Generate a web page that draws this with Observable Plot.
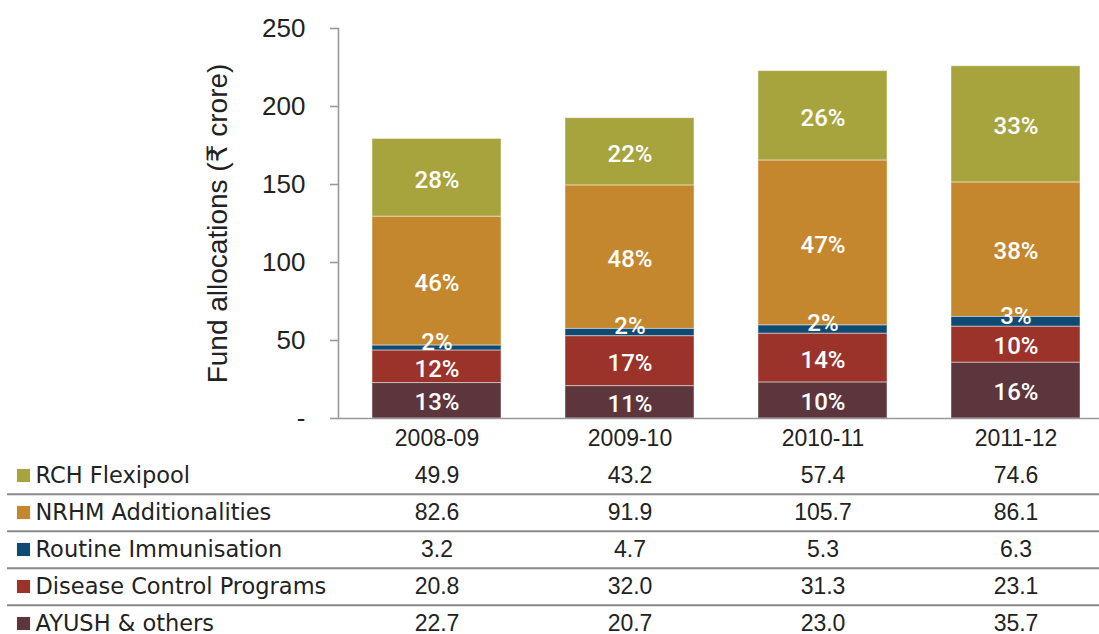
<!DOCTYPE html>
<html>
<head>
<meta charset="utf-8">
<script src="https://cdn.jsdelivr.net/npm/d3@7"></script>
<script src="https://cdn.jsdelivr.net/npm/@observablehq/plot@0.6"></script>
<style>
  html, body { margin: 0; padding: 0; background: #fff; }
  #chart svg { display: block; }
</style>
</head>
<body>
<div id="chart"></div>
<script>
// ---- Data ----
const years = ["2008-09", "2009-10", "2010-11", "2011-12"];
const seriesNames = ["RCH Flexipool", "NRHM Additionalities", "Routine Immunisation", "Disease Control Programs", "AYUSH & others"];
const rchFlexipool = [49.9, 43.2, 57.4, 74.6];
const nrhmAdditionalities = [82.6, 91.9, 105.7, 86.1];
const routineImmunisation = [3.2, 4.7, 5.3, 6.3];
const diseaseControlPrograms = [20.8, 32.0, 31.3, 23.1];
const ayushOthers = [22.7, 20.7, 23.0, 35.7];
const seriesColors = ["#A7A43E", "#C4872E", "#0D4A74", "#9B332B", "#5C363C"];
const yTicks = [0, 50, 100, 150, 200, 250];
const yTitle = "Fund allocations (₹ crore)";

const seriesValues = [rchFlexipool, nrhmAdditionalities, routineImmunisation, diseaseControlPrograms, ayushOthers];
const records = seriesNames.flatMap((s, i) => years.map((y, j) => ({series: s, year: y, value: seriesValues[i][j]})));
const totals = new Map(years.map((y, j) => [y, d3.sum(seriesValues, v => v[j])]));
const stackOrder = seriesNames.slice().reverse();
const pct = d => Math.round(d.value / totals.get(d.year) * 100) + "%";

const font = "'Liberation Sans', Arial, 'DejaVu Sans', 'Noto Sans', sans-serif";
const xScale = {type: "band", domain: years, range: [338.6, 1113.9], padding: 0.332, paddingOuter: 0.166};
const colorScale = {domain: seriesNames, range: seriesColors};
const axisGray = "#999999";
const ruleGray = "#8a8a8a";
const textColor = "#222";
const labelFont = "Roboto, 'Open Sans', sans-serif";

const chart = Plot.plot({
  width: 1099,
  height: 450,
  marginTop: 28,
  marginBottom: 32,
  marginLeft: 338,
  marginRight: 0,
  style: {fontFamily: font, background: "#fff", color: textColor},
  x: {...xScale, label: null},
  y: {domain: [0, 250], label: null},
  color: colorScale,
  marks: [
    Plot.barY(records, {x: "year", y: "value", z: "series", fill: "series", order: stackOrder,
      stroke: "#fff", strokeOpacity: 0.45, strokeWidth: 1}),
    Plot.text(records, Plot.filter(d => d.series !== "Routine Immunisation",
      Plot.stackY({x: "year", y: "value", z: "series", order: stackOrder, text: pct,
        fill: "white", fontSize: 24, fontWeight: 500, fontFamily: labelFont, dy: 2}))),
    Plot.text(records, Plot.filter(d => d.series === "Routine Immunisation",
      Plot.stackY({x: "year", y: "value", z: "series", order: stackOrder, text: pct,
        fill: "white", fontSize: 24, fontWeight: 500, fontFamily: labelFont, dy: -6}))),
    Plot.frame({anchor: "left", stroke: axisGray, strokeWidth: 1.6}),
    Plot.ruleY([0], {stroke: axisGray, strokeWidth: 1.6}),
    Plot.axisY({ticks: yTicks, tickFormat: d => d === 0 ? "-" : d, fontSize: 26, tickSize: 8, tickPadding: 25,
      stroke: axisGray, strokeWidth: 1.6, fill: textColor, label: null}),
    Plot.axisX({tickSize: 0, tickPadding: 11, fontSize: 23, fill: textColor, label: null}),
    Plot.text([yTitle], {text: d => d, frameAnchor: "left", textAnchor: "middle", dx: -120, rotate: -90, fontSize: 28,
      fill: textColor, fontFamily: "'Liberation Sans', 'DejaVu Sans', 'Noto Sans', sans-serif"})
  ]
});

const table = Plot.plot({
  width: 1099,
  height: 184,
  marginTop: 0,
  marginBottom: 0,
  marginLeft: 7,
  marginRight: 0,
  style: {fontFamily: font, background: "#fff", color: textColor},
  x: {...xScale, axis: null},
  y: {type: "point", domain: seriesNames, range: [23.5, 174], padding: 0, axis: null},
  color: colorScale,
  marks: [
    Plot.ruleY(seriesNames.slice(0, -1), {y: d => d, dy: 18.8, stroke: ruleGray, strokeWidth: 2}),
    Plot.dot(seriesNames, {y: d => d, frameAnchor: "left", dx: 16, symbol: "square", r: 7.4, fill: d => d, stroke: null}),
    Plot.text(seriesNames, {y: d => d, text: d => d, frameAnchor: "left", dx: 28, textAnchor: "start", fontSize: 22.5,
      fill: textColor, fontFamily: "'DejaVu Sans', sans-serif"}),
    Plot.text(records, {x: "year", y: "series", text: d => d.value.toFixed(1), fontSize: 23, fill: textColor})
  ]
});

const root = document.getElementById("chart");
root.appendChild(chart);
root.appendChild(table);
</script>
</body>
</html>
